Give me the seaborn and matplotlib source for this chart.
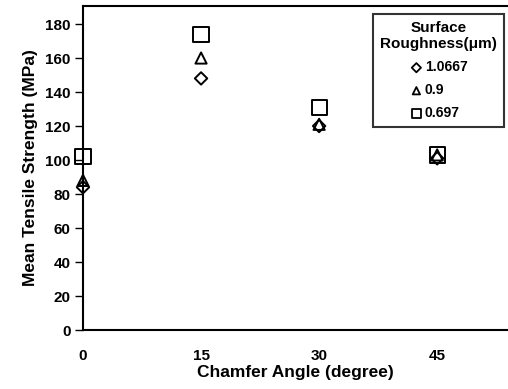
import numpy as np
import pandas as pd
import seaborn as sns
import matplotlib.pyplot as plt

# data
angles = [0, 15, 30, 45]
rough_10667 = [84, 148, 120, 101]
rough_09 = [88, 160, 121, 103]
rough_0697 = [102, 174, 131, 103]
series_names = ["1.0667", "0.9", "0.697"]
y_ticks = [0, 20, 40, 60, 80, 100, 120, 140, 160, 180]
x_ticks = [0, 15, 30, 45]

df = pd.DataFrame({
    "angle": angles * 3,
    "strength": rough_10667 + rough_09 + rough_0697,
    "roughness": [series_names[0]] * 4 + [series_names[1]] * 4 + [series_names[2]] * 4,
})

sns.set_style("white")
plt.rcParams['font.family'] = ['Liberation Sans', 'DejaVu Sans']
plt.rcParams['font.weight'] = 'bold'
for key in ["text.color", "axes.labelcolor", "xtick.color", "ytick.color"]:
    plt.rcParams[key] = "black"

fig = plt.figure(figsize=(5.08, 3.89), dpi=100)
ax = fig.add_axes([83 / 508, 1 - 330 / 389, 1 - 83 / 508, 324 / 389])

markers = {"1.0667": "D", "0.9": "^", "0.697": "s"}
sizes = {"1.0667": 40, "0.9": 65, "0.697": 120}
for name in series_names:
    sub = df[df["roughness"] == name]
    sns.scatterplot(data=sub, x="angle", y="strength", marker=markers[name],
                    s=sizes[name], facecolor="none", edgecolor="black",
                    linewidth=1.4, label=name, ax=ax, zorder=3, clip_on=False)

ax.set_xlim(0, 54)
ax.set_ylim(0, 190.6)
ax.set_xticks(x_ticks)
ax.set_yticks(y_ticks)
ax.tick_params(axis="y", direction="out", length=6, width=1, left=True, labelsize=11, pad=3)
ax.tick_params(axis="x", length=0, labelsize=11, pad=14)
for lab in ax.get_xticklabels() + ax.get_yticklabels():
    lab.set_fontweight("bold")
for side in ["left", "top", "bottom"]:
    ax.spines[side].set_color("black")
    ax.spines[side].set_linewidth(1.5)
ax.spines["right"].set_visible(False)

ax.set_xlabel("Chamfer Angle (degree)", fontsize=12.5, fontweight="bold", labelpad=1)
ax.set_ylabel("Mean Tensile Strength (MPa)", fontsize=12.5, fontweight="bold", labelpad=5)

leg = ax.legend(title="Surface\nRoughness(\u03bcm)", loc="upper right",
                bbox_to_anchor=(1.0, 1 - 4 / 324),
                frameon=True, fancybox=False, edgecolor="black", fontsize=10,
                title_fontsize=11, handletextpad=0.1, handlelength=1.0,
                labelspacing=0.65, borderpad=0.5, borderaxespad=0.3)
leg.get_frame().set_linewidth(1.5)
leg.get_title().set_fontweight("bold")
leg.get_title().set_multialignment("center")
for t in leg.get_texts():
    t.set_fontweight("bold")
for h, s in zip(leg.legend_handles, [22, 28, 40]):
    h.set_sizes([s])
    h.set_linewidth(1.3)

fig.savefig("out.png", dpi=100)
